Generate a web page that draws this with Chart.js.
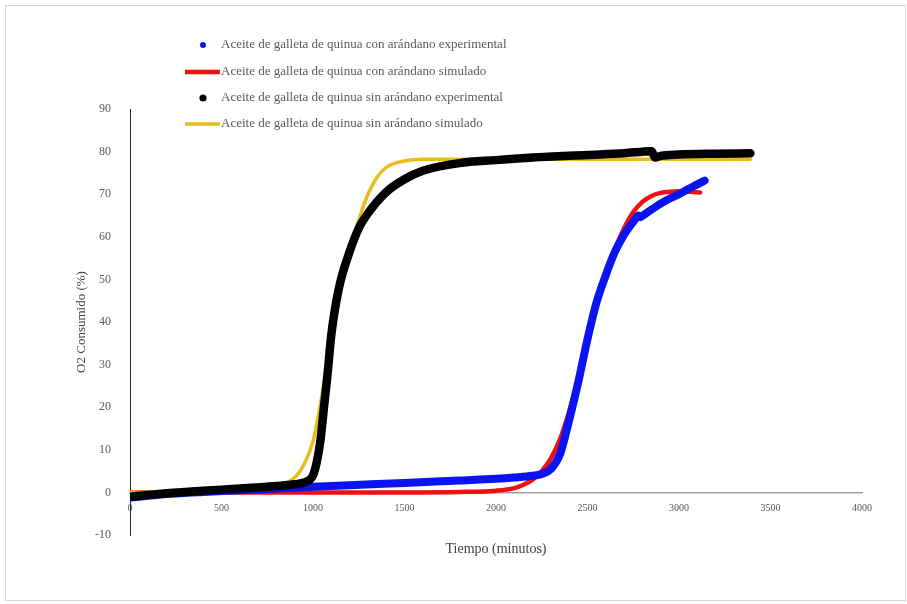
<!DOCTYPE html>
<html>
<head>
<meta charset="utf-8">
<script src="https://cdn.jsdelivr.net/npm/chart.js@4.4.1/dist/chart.umd.min.js"></script>
<style>
    body { margin: 0; background: #fff; }
    #frame { position: absolute; left: 5px; top: 5px; width: 899px; height: 594px; border: 1px solid #d6d6d6; }
    #wrap { position: absolute; left: 0; top: 0; width: 907px; height: 604px; }
</style>
</head>
<body>
<div id="frame"></div>
<div id="wrap"><canvas id="o2Chart"></canvas></div>
<script>
    const seriesNames = [
        'Aceite de galleta de quinua con arándano experimental',
        'Aceite de galleta de quinua con arándano simulado',
        'Aceite de galleta de quinua sin arándano experimental',
        'Aceite de galleta de quinua sin arándano simulado'
    ];

    // con arándano, experimental (blue)
    const conExpX = [0, 100, 200, 400, 600, 800, 1000, 1200, 1500, 1800, 2000, 2100, 2200, 2250, 2300, 2350, 2400, 2450, 2500, 2550, 2600, 2650, 2700, 2750, 2780, 2790, 2800, 2850, 2900, 2950, 3000, 3050, 3100, 3140];
    const conExpY = [-1.2, -0.8, -0.4, 0.1, 0.5, 0.9, 1.3, 1.7, 2.2, 2.8, 3.2, 3.5, 3.9, 4.3, 5.5, 9, 17, 26, 36, 44.7, 51, 56.5, 60.5, 63.5, 65, 64.6, 64.9, 66.4, 67.8, 69, 70, 71.2, 72.3, 73.2];

    // con arándano, simulado (red)
    const conSimX = [0, 500, 1000, 1500, 1800, 2000, 2100, 2150, 2200, 2250, 2300, 2350, 2400, 2450, 2500, 2550, 2600, 2650, 2700, 2750, 2800, 2850, 2900, 2950, 3000, 3060, 3115];
    const conSimY = [0, 0, 0, 0, 0.1, 0.4, 1, 1.8, 3, 5, 8, 12.5, 19, 27, 36, 44, 51, 57, 62, 65.8, 68.2, 69.6, 70.3, 70.6, 70.7, 70.6, 70.4];

    // sin arándano, experimental (black)
    const sinExpX = [0, 100, 200, 400, 600, 800, 900, 950, 980, 1000, 1020, 1040, 1060, 1080, 1100, 1120, 1150, 1200, 1250, 1300, 1400, 1500, 1600, 1800, 2000, 2200, 2500, 2700, 2850, 2870, 2900, 3000, 3200, 3390];
    const sinExpY = [-1, -0.6, -0.2, 0.4, 0.9, 1.5, 1.9, 2.3, 2.9, 4, 7, 12, 20, 28, 37, 43, 49.5, 56.5, 62, 65.5, 70.5, 73.5, 75.5, 77.3, 78, 78.6, 79.2, 79.6, 80.1, 78.6, 79, 79.3, 79.5, 79.6];

    // sin arándano, simulado (yellow)
    const sinSimX = [0, 300, 600, 800, 900, 950, 1000, 1050, 1100, 1150, 1200, 1250, 1300, 1350, 1400, 1500, 1600, 1800, 2000, 2500, 3000, 3390];
    const sinSimY = [0, 0.2, 0.6, 1.5, 3.5, 6.5, 12, 23, 36, 48, 57, 64, 70, 74, 76.3, 77.8, 78.2, 78.2, 78.2, 78.2, 78.2, 78.2];

    function toPoints(xs, ys) {
        return xs.map((x, i) => ({ x: x, y: ys[i] }));
    }

    const serifFont = "'Liberation Serif', 'Times New Roman', serif";

    // legend drawn by hand: markers to the left, text in a column
    const legendPlugin = {
        id: 'stackedLegend',
        afterDraw(chart) {
            const ctx = chart.ctx;
            const rows = [45, 72, 98, 124];
            ctx.save();
            ctx.font = '13px ' + serifFont;
            ctx.textBaseline = 'middle';
            chart.data.datasets.forEach((ds, i) => {
                const y = rows[i];
                if (ds.isExperimental) {
                    ctx.beginPath();
                    ctx.arc(203, y, i === 0 ? 3 : 3.6, 0, Math.PI * 2);
                    ctx.fillStyle = ds.borderColor;
                    ctx.fill();
                } else {
                    ctx.beginPath();
                    ctx.moveTo(185, y);
                    ctx.lineTo(220, y);
                    ctx.lineWidth = ds.borderWidth;
                    ctx.strokeStyle = ds.borderColor;
                    ctx.stroke();
                }
                ctx.fillStyle = '#595959';
                ctx.fillText(ds.label, 221, y);
            });
            // x axis title
            ctx.font = '14px ' + serifFont;
            ctx.textAlign = 'center';
            ctx.fillStyle = '#404040';
            const xs = chart.scales.x;
            ctx.fillText('Tiempo (minutos)', (xs.left + xs.right) / 2, 549);
            ctx.restore();
        }
    };

    const ctxO2 = document.getElementById('o2Chart').getContext('2d');

    new Chart(ctxO2, {
        type: 'line',
        data: {
            datasets: [{
                label: seriesNames[0],
                data: toPoints(conExpX, conExpY),
                borderColor: '#0a14f0',
                borderWidth: 8,
                isExperimental: true,
                order: 1
            }, {
                label: seriesNames[1],
                data: toPoints(conSimX, conSimY),
                borderColor: '#f01010',
                borderWidth: 4.5,
                order: 3
            }, {
                label: seriesNames[2],
                data: toPoints(sinExpX, sinExpY),
                borderColor: '#000000',
                borderWidth: 8.5,
                isExperimental: true,
                order: 0
            }, {
                label: seriesNames[3],
                data: toPoints(sinSimX, sinSimY),
                borderColor: '#e8bd1c',
                borderWidth: 3.5,
                order: 2
            }]
        },
        options: {
            responsive: true,
            maintainAspectRatio: false,
            animation: false,
            elements: {
                point: { radius: 0, hoverRadius: 0 },
                line: { cubicInterpolationMode: 'monotone', borderCapStyle: 'round', borderJoinStyle: 'round', fill: false }
            },
            layout: { padding: { left: 70, top: 109, right: 45, bottom: 69 } },
            plugins: {
                legend: { display: false },
                tooltip: { enabled: false }
            },
            scales: {
                x: {
                    type: 'linear',
                    position: { y: 0 },
                    min: 0,
                    max: 4000,
                    grid: { display: false, drawTicks: false },
                    border: { display: true, color: '#a0a0a0', width: 1.5 },
                    ticks: {
                        stepSize: 500,
                        padding: 10,
                        color: '#595959',
                        font: { family: serifFont, size: 10 },
                        callback: function(value) { return String(value); }
                    }
                },
                y: {
                    min: -10,
                    max: 90,
                    afterFit: function(scale) { scale.width = 60; },
                    grid: { display: false, drawTicks: false },
                    border: { display: true, color: '#262626', width: 1 },
                    ticks: {
                        stepSize: 10,
                        padding: 19,
                        color: '#595959',
                        font: { family: serifFont, size: 12 }
                    },
                    title: {
                        display: true,
                        text: 'O2 Consumido (%)',
                        color: '#404040',
                        padding: 4,
                        font: { family: serifFont, size: 13 }
                    }
                }
            }
        },
        plugins: [legendPlugin]
    });
</script>
</body>
</html>
